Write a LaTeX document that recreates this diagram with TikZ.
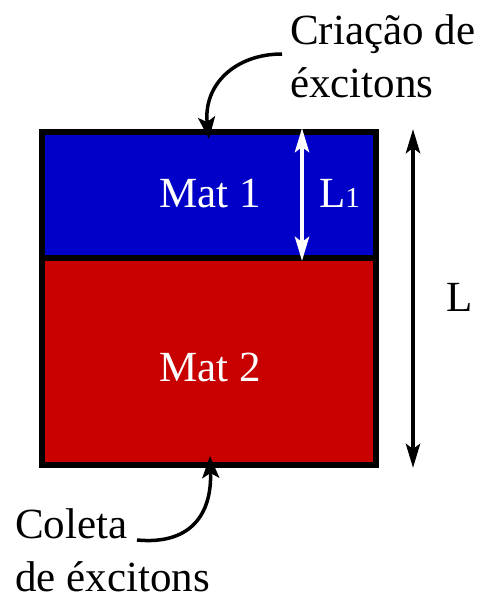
\documentclass[tikz,border=0pt]{standalone}
\usepackage{fontspec}
\setmainfont{Liberation Serif}
\usetikzlibrary{arrows.meta}
\definecolor{matblue}{RGB}{0,0,200}
\definecolor{matred}{RGB}{200,0,0}
\begin{document}
\begin{tikzpicture}[x=1pt,y=-1pt,
  lbl/.style={inner sep=0pt,anchor=base west,font=\fontsize{43}{52}\selectfont},
  clbl/.style={inner sep=0pt,anchor=base,font=\fontsize{43}{52}\selectfont},
  border/.style={line width=6pt},
  dimtip/.style={Stealth[length=24pt,width=14pt,inset=5pt]},
  dimarrow/.style={line width=4.5pt,{Stealth[length=24pt,width=14pt,inset=5pt]}-{Stealth[length=24pt,width=14pt,inset=5pt]}},
  curvarrow/.style={line width=3.5pt,-{Stealth[length=22pt,width=17pt,inset=5pt]}}]
\useasboundingbox (0,0) rectangle (481,596);
% layers
\fill[matblue] (42,132) rectangle (376,257.5);
\fill[matred] (42,257.5) rectangle (376,465);
\draw[border] (42,257.5) -- (376,257.5);
\draw[border] (42,132) rectangle (376,465);
% labels
\node[clbl,text=white] (mat1) at (210,207) {Mat 1};
\node[clbl,text=white] (mat2) at (210,381) {Mat 2};
\node[lbl,text=white] (l1) at (319,207) {L{\fontsize{29}{34}\selectfont 1}};
\node[lbl] (lbig) at (446,311) {L};
\node[lbl] (cr1) at (290,45) {Criação de};
\node[lbl] (cr2) at (290,98) {éxcitons};
\node[lbl] (co1) at (15,538) {Coleta};
\node[lbl] (co2) at (15,591) {de éxcitons};
% dimension arrows
\coordinate (w1) at (302,128);
\coordinate (w2) at (302,261);
\draw[dimarrow,white] (w1) -- (w2);
\coordinate (b1) at (413,129);
\coordinate (b2) at (413,468);
\draw[dimarrow] (b1) -- (b2);
% curved arrows
\coordinate (ctop) at (209,139);
\coordinate (cbot) at (210,456);
\draw[curvarrow] (282,54) .. controls (235,54) and (203,85) .. (ctop);
\draw[curvarrow] (137,540) .. controls (190,545) and (212,515) .. (cbot);
\end{tikzpicture}
\end{document}
